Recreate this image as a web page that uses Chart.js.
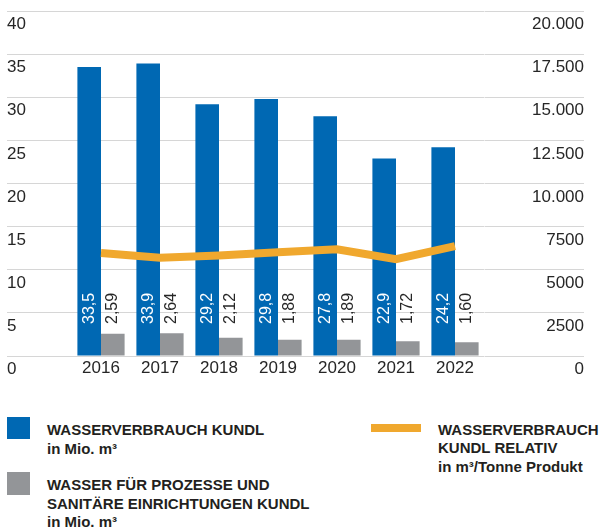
<!DOCTYPE html>
<html>
<head>
<meta charset="utf-8">
<script src="https://cdn.jsdelivr.net/npm/chart.js@4.4.1/dist/chart.umd.min.js"></script>
<style>
  body { margin: 0; background: #fff; font-family: "Liberation Sans", Arial, sans-serif; color: #231f20; }
  #wrap { position: relative; width: 601px; height: 528px; overflow: hidden; }
  #waterChart { position: absolute; left: 0; top: 0; }
  .swatch { position: absolute; }
  .legText { position: absolute; font-weight: bold; font-size: 15px; white-space: nowrap; }
</style>
</head>
<body>
<div id="wrap">
  <canvas id="waterChart" width="601" height="390"></canvas>

  <div class="swatch" style="left:7px;top:417px;width:23px;height:22px;background:#0068b3"></div>
  <div class="legText" style="left:47px;top:421px;line-height:18.5px">WASSERVERBRAUCH KUNDL<br>in Mio. m³</div>

  <div class="swatch" style="left:7px;top:472px;width:23px;height:23px;background:#939598"></div>
  <div class="legText" style="left:47px;top:476px;line-height:18.7px">WASSER FÜR PROZESSE UND<br>SANITÄRE EINRICHTUNGEN KUNDL<br>in Mio. m³</div>

  <div class="swatch" style="left:371px;top:424px;width:50px;height:8px;background:#f0a82e"></div>
  <div class="legText" style="left:438px;top:421px;line-height:18.3px">WASSERVERBRAUCH<br>KUNDL RELATIV<br>in m³/Tonne Produkt</div>
</div>

<script>
const years = ["2016", "2017", "2018", "2019", "2020", "2021", "2022"];
const verbrauchKundl = [33.5, 33.9, 29.2, 29.8, 27.8, 22.9, 24.2];      // Mio. m3
const prozessSanitaer = [2.59, 2.64, 2.12, 1.88, 1.89, 1.72, 1.60];     // Mio. m3
const verbrauchRelativ = [5970, 5700, 5830, 6020, 6190, 5610, 6370];    // m3 / Tonne Produkt
const rightTickLabels = ["0", "2500", "5000", "7500", "10.000", "12.500", "15.000", "17.500", "20.000"];

const BLUE = "#0068b3";
const GRAY = "#939598";
const ORANGE = "#f0a82e";
const GRID = "#d6d6d6";
const TEXT = "#262626";

Chart.defaults.font.family = '"Liberation Sans", Arial, sans-serif';

// rotated value labels, all starting at the same height above the zero line
const valueLabels = {
  id: "valueLabels",
  afterDatasetsDraw(chart) {
    const { ctx } = chart;
    const baseY = chart.scales.y.getPixelForValue(0) - 32;
    [[0, "#ffffff", 1], [1, TEXT, 2]].forEach(([dsIndex, color, digits]) => {
      const meta = chart.getDatasetMeta(dsIndex);
      meta.data.forEach((bar, i) => {
        const txt = chart.data.datasets[dsIndex].data[i].toFixed(digits).replace(".", ",");
        ctx.save();
        ctx.translate(bar.x, baseY);
        ctx.rotate(-Math.PI / 2);
        ctx.font = '16px "Liberation Sans", Arial, sans-serif';
        ctx.fillStyle = color;
        ctx.textAlign = "left";
        ctx.textBaseline = "middle";
        ctx.fillText(txt, 0, 0);
        ctx.restore();
      });
    });
  },
};

new Chart(document.getElementById("waterChart"), {
  type: "bar",
  data: {
    labels: years,
    datasets: [
      {
        label: "Wasserverbrauch Kundl",
        data: verbrauchKundl,
        backgroundColor: BLUE,
        yAxisID: "y",
        order: 1,
        categoryPercentage: 0.8,
        barPercentage: 1,
      },
      {
        label: "Wasser für Prozesse und sanitäre Einrichtungen Kundl",
        data: prozessSanitaer,
        backgroundColor: GRAY,
        yAxisID: "y",
        order: 1,
        categoryPercentage: 0.8,
        barPercentage: 1,
      },
      {
        type: "line",
        label: "Wasserverbrauch Kundl relativ",
        data: verbrauchRelativ,
        borderColor: ORANGE,
        borderWidth: 8,
        pointRadius: 0,
        tension: 0,
        yAxisID: "y1",
        order: 0,
      },
    ],
  },
  options: {
    responsive: false,
    animation: false,
    layout: { padding: { left: 7, right: 17, top: 11, bottom: 10 } },
    plugins: {
      legend: { display: false },
      tooltip: { enabled: false },
    },
    scales: {
      x: {
        offset: true,
        grid: { display: false, drawTicks: false },
        border: { display: false },
        ticks: { color: TEXT, font: { size: 17 }, padding: 2 },
        afterFit: (s) => { s.height = 24; },
      },
      y: {
        position: "left",
        min: 0,
        max: 40,
        ticks: { stepSize: 5, crossAlign: "far", labelOffset: 13.5, padding: 0, color: TEXT, font: { size: 17 } },
        grid: { color: GRID, lineWidth: 1, drawTicks: true, tickLength: 64.5 },
        border: { display: false },
        afterFit: (s) => { s.width = 64.5; },
      },
      y1: {
        position: "right",
        min: 0,
        max: 20000,
        ticks: {
          stepSize: 2500,
          crossAlign: "far",
          labelOffset: 13.5,
          padding: 0,
          color: TEXT,
          font: { size: 17 },
          callback: (v, i) => rightTickLabels[i],
        },
        grid: { color: GRID, lineWidth: 1, drawOnChartArea: false, drawTicks: true, tickLength: 99.5 },
        border: { display: false },
        afterFit: (s) => { s.width = 99.5; },
      },
    },
  },
  plugins: [valueLabels],
});
</script>
</body>
</html>
